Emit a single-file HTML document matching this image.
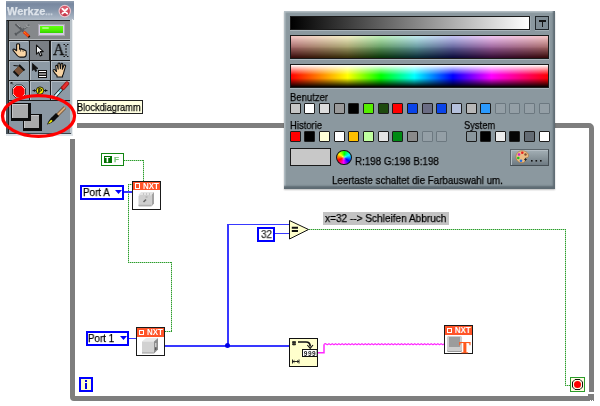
<!DOCTYPE html>
<html><head><meta charset="utf-8">
<style>
html,body{margin:0;padding:0;background:#fff;}
body{width:600px;height:406px;position:relative;overflow:hidden;font-family:"Liberation Sans",sans-serif;font-size:11px;color:#000;}
.a{position:absolute;}
.t{position:absolute;white-space:nowrap;line-height:12px;height:12px;transform-origin:0 0;will-change:transform;-webkit-text-stroke-width:.25px;}
svg{will-change:transform;}
/* loop frame */
.fr{position:absolute;background:#7f7f7f;}
/* popup */
#pop{left:284px;top:10.500px;width:270.500px;height:178px;background:#8b989f;box-shadow:inset -2px -3px 2px #5e6b73,inset 1.500px 1.500px 1px #b4bec4,0 1px 1.500px rgba(0,0,0,.25);box-sizing:border-box;}
.bar{position:absolute;border:1px solid #1a1a1a;box-sizing:border-box;}
.sw{position:absolute;width:11px;height:11px;box-sizing:border-box;border:1px solid #1c1c1c;border-radius:1px;}
.sw.e{border:1px solid #6c7880;background:#949fa6;}

.cell{position:absolute;width:19px;height:19px;background:#8d9aa5;box-sizing:border-box;border-top:1px solid #b7c0c8;border-left:1px solid #b7c0c8;}
.cell.sel{background:#7a7f85;border:1px solid #111;}
.gl{position:absolute;background:#1c1c1c;}

.gh{position:absolute;height:1px;background:repeating-linear-gradient(90deg,#2f982f 0 1px,#a6dea6 1px 2px);}
.gv{position:absolute;width:1px;background:repeating-linear-gradient(180deg,#2f982f 0 1px,#a6dea6 1px 2px);}
.bw{position:absolute;background:#3838ff;}
.enum{position:absolute;box-sizing:border-box;border:2px solid #0000ff;background:#fff;}
.nxt{position:absolute;box-sizing:border-box;border:1px solid #1a1a1a;border-right-width:1.500px;border-bottom-width:1.500px;background:#fff;}
.nxt .bn{position:absolute;left:0;top:0;right:0;height:8.600px;background:#ff5428;}
.nxt .bt{position:absolute;left:10.300px;top:0px;font-size:8.500px;line-height:9px;height:9px;font-weight:bold;color:#fff;transform:scaleX(.94);transform-origin:0 0}
.nxt .ic{position:absolute;left:2.300px;top:1.700px;width:5px;height:5.500px;box-sizing:border-box;border:1px solid #fff;border-width:1.200px;}
</style></head><body>

<!-- loop frame -->
<div class="a" style="left:70px;top:123.3px;width:524px;height:277.4px;box-sizing:border-box;border:5px solid #7e7e7e;border-radius:5px 5px 2px 4px"></div>
<div class="a" style="left:66px;top:118px;width:11px;height:21px;background:#fff"></div>
<div class="a" style="left:588px;top:392px;width:7px;height:2px;background:#fff"></div>
<div class="a" style="left:588px;top:394px;width:6px;height:7px;background:#7e7e7e"></div>
<div class="a" style="left:590px;top:400px;width:1px;height:1px;background:#fff"></div>
<div class="a" style="left:592px;top:400px;width:1px;height:1px;background:#fff"></div>
<!-- tools window -->
<div class="a" id="tw" style="left:6px;top:1px;width:67px;height:135px;background:#8b98a3;"></div>
<div class="a" style="left:6px;top:1px;width:68px;height:18.5px;background:linear-gradient(#93a0b1 0%,#7888a0 15%,#8494a9 45%,#a0adbd 80%,#b2bdca 100%);"></div>
<div class="t" style="left:7.300px;top:5px;font-weight:bold;font-size:11px;color:#dde3ea">Werkze<span style="font-size:9px;color:#c8d0da">...</span></div>
<svg class="a" style="left:58px;top:4px" width="15" height="15" viewBox="0 0 15 15"><defs><radialGradient id="cg" cx="50%" cy="35%" r="65%"><stop offset="0" stop-color="#ec7484"/><stop offset="1" stop-color="#c02c40"/></radialGradient></defs><circle cx="6.800" cy="7.100" r="6.300" fill="#e8c4cc"/><circle cx="6.800" cy="7.100" r="5.100" fill="url(#cg)"/><path d="M4.300 4.600L9.300 9.600M9.300 4.600L4.300 9.600" stroke="#fff" stroke-width="1.800" stroke-linecap="round"/></svg>
<!-- body borders -->
<div class="a" style="left:6px;top:19.5px;width:2.7px;height:115px;background:#48525a"></div>
<div class="a" style="left:7px;top:19.800px;width:63px;height:1.500px;background:#1a1a1a"></div>
<div class="a" style="left:8px;top:20px;width:1px;height:113px;background:#222"></div>
<div class="a" style="left:70px;top:20px;width:2px;height:114px;background:#b9c2c9"></div>
<div class="a" style="left:72px;top:19px;width:1px;height:116px;background:#e8ecee"></div>
<div class="a" style="left:8px;top:133px;width:63px;height:1px;background:#3a444c"></div>
<div class="a" style="left:6px;top:134px;width:67px;height:2px;background:#dfe4e8"></div>
<!-- row1 auto tool -->
<div class="a" style="left:9px;top:21px;width:61px;height:19px;background:#85888b"></div><div class="a" style="left:9px;top:39px;width:61px;height:1px;background:#b4b8bc"></div>
<div class="a" style="left:38px;top:23.600px;width:27px;height:12.200px;background:#d4cce0;border:1px solid #a8a4b0;box-sizing:border-box"></div>
<div class="a" style="left:40px;top:25.800px;width:22.800px;height:7.400px;background:linear-gradient(#62ff14,#50f400 55%,#34d000)"></div>
<div class="a" style="left:42px;top:26.800px;width:7px;height:2px;background:#b8ff90;opacity:.8;border-radius:1px"></div>
<svg class="a" style="left:13px;top:22px" width="20" height="18" viewBox="0 0 20 18"><path d="M2.500 2L10.500 9.500" stroke="#55585c" stroke-width="2.200" fill="none"/><path d="M3.500 1.800L7 5" stroke="#b0b2b4" stroke-width=".8" fill="none"/><path d="M16.500 3L2.500 12.500" stroke="#5c6064" stroke-width="1.800" fill="none"/><path d="M13 2.500l1.500 2l2.500-.5M11 6l4-2" stroke="#a4a6a8" stroke-width=".9" fill="none"/><path d="M2 11l1.500 2.500" stroke="#55585c" stroke-width="1.500"/><path d="M10.800 9.800L16 14.500" stroke="#f03010" stroke-width="3"/><path d="M11 10L15.500 14" stroke="#ffc400" stroke-width="1" stroke-dasharray="1 .8"/><path d="M15.600 14.200l1 .9" stroke="#111" stroke-width="2.200"/></svg>
<!-- grid cells -->
<div class="cell" style="left:9px;top:41px"></div>
<div class="cell sel" style="left:29px;top:40px;width:21px;height:21px"></div>
<div class="cell" style="left:51px;top:41px"></div>
<div class="cell" style="left:9px;top:61px"></div>
<div class="cell" style="left:30px;top:61px"></div>
<div class="cell" style="left:51px;top:61px"></div>
<div class="cell" style="left:9px;top:81px"></div>
<div class="cell" style="left:30px;top:81px"></div>
<div class="cell" style="left:51px;top:81px"></div>
<!-- grid lines -->
<div class="gl" style="left:9px;top:40px;width:61px;height:1px"></div>
<div class="gl" style="left:9px;top:60px;width:61px;height:1px"></div>
<div class="gl" style="left:9px;top:80px;width:61px;height:1px"></div>
<div class="gl" style="left:9px;top:100px;width:61px;height:1px"></div>
<div class="gl" style="left:29px;top:40px;width:1px;height:61px"></div>
<div class="gl" style="left:50px;top:40px;width:1px;height:61px"></div>

<!-- hand operate -->
<svg class="a" style="left:10px;top:42px" width="18" height="17" viewBox="0 0 18 17"><path d="M6.600 3c0-1.700 3-1.700 3 0v4.200l1-.5c.8-.2 1.400.2 1.600.8l.9-.2c.8 0 1.300.4 1.400 1l.7.100c.8.200 1.100.8 1.100 1.500v2.300c0 1.700-1 2.900-2.600 2.900h-3.700c-1.200 0-2-.6-2.800-1.600l-4-4.800c-.8-1.200.4-2.100 1.400-1.500l2 1.500z" fill="#f8d4a4" stroke="#111" stroke-width="1.100" stroke-linejoin="round"/><path d="M10.600 7v2.500M13.100 7.500v2.300" stroke="#111" stroke-width=".7"/></svg>
<!-- arrow -->
<svg class="a" style="left:34px;top:44px" width="12" height="14" viewBox="0 0 12 14"><path d="M2.500 1.200v9l2.200-2l1.600 3.800l1.600-.7l-1.600-3.700h3z" fill="#fff" stroke="#111" stroke-width="1.100" stroke-linejoin="round"/></svg>
<!-- A text -->
<div class="t" style="left:52.600px;top:41.300px;font-family:'Liberation Serif',serif;font-size:17px;line-height:17px;height:17px;color:#0c0c0c;-webkit-text-stroke:.35px #0c0c0c;transform:scaleX(.93)">A</div>
<svg class="a" style="left:62px;top:43px" width="8" height="15" viewBox="0 0 8 15"><path d="M1.500 1.500h1.500M5 1.500h1.500M4 2v2M4 5v2M4 8v2M4 11v2M1.500 13.500h1.500M5 13.500h1.500" stroke="#111" stroke-width="1" fill="none"/></svg>
<!-- wire spool -->
<svg class="a" style="left:10px;top:61px" width="18" height="18" viewBox="0 0 18 18"><path d="M3.500 4.500l5 .5" stroke="#111" stroke-width="1"/><path d="M9 5l4.500 4.500l-5 5l-4.500-4.500z" fill="#7a5238" stroke="#5a3a24" stroke-width=".6"/><path d="M9 4l5.500 5.500" stroke="#111" stroke-width="2"/><path d="M3.500 10.300l5 5" stroke="#111" stroke-width="2"/></svg>
<!-- menu arrow -->
<svg class="a" style="left:31px;top:62px" width="19" height="18" viewBox="0 0 19 18"><path d="M1.500 1.500v7l1.800-1.500l1.200 2.500l1.300-.6l-1.200-2.400h2.400z" fill="#111" stroke="#111" stroke-width=".8" stroke-linejoin="round"/><rect x="7.500" y="8.500" width="8" height="7" fill="#fff" stroke="#111" stroke-width="1"/><path d="M8 10.700h7M8 13.300h7" stroke="#111" stroke-width="1.400"/></svg>
<!-- scroll hand -->
<svg class="a" style="left:52px;top:62px" width="18" height="17" viewBox="0 0 18 17"><path d="M4.500 9.500l-.8-5c-.2-1.300 1.500-1.600 1.800-.4l.7 3l-.2-5c0-1.300 1.800-1.400 1.900-.1l.5 4.600l.6-4.400c.2-1.300 1.900-1.100 1.800.2l-.5 4.800l1.600-3.600c.5-1.200 2.100-.6 1.700.6l-1.600 5.300c-.3 1.800-.8 3-1.500 4.200v1.300h-5.500v-1.300c-.8-.8-2.800-3.200-3.700-4.800c-.6-1.200.8-1.900 1.700-1z" fill="#f8d4a4" stroke="#111" stroke-width="1.100" stroke-linejoin="round"/></svg>
<!-- breakpoint -->
<svg class="a" style="left:9px;top:81px" width="20" height="20" viewBox="0 0 20 20"><path d="M2 1.500l2 2M2 1.500h1.500M2 1.500v1.500" stroke="#111" stroke-width=".8"/><path d="M7 4h6l3.500 3.500v6l-3.500 3.500h-6l-3.500-3.500v-6z" fill="#fff" stroke="#111" stroke-width=".8"/><path d="M7.400 5h5.200l3 3v5l-3 3h-5.200l-3-3v-5z" fill="#ff0000"/></svg>
<!-- probe -->
<svg class="a" style="left:30px;top:81px" width="20" height="20" viewBox="0 0 20 20"><path d="M2.500 9.600h4M13.500 9.600h4" stroke="#111" stroke-width="1"/><path d="M5 8.100l-2 1.500l2 1.500zM15 8.100l2 1.500l-2 1.500z" fill="#111"/><circle cx="10" cy="9.600" r="3.700" fill="#fcf400" stroke="#111" stroke-width=".9"/><path d="M8.900 7.300v4.700" stroke="#111" stroke-width="1.300" fill="none"/><path d="M8.900 7.800h1.500a1.150 1.150 0 0 1 0 2.300h-1.500" stroke="#111" stroke-width="1" fill="none"/></svg>
<!-- dropper -->
<svg class="a" style="left:51px;top:81px" width="20" height="20" viewBox="0 0 20 20"><path d="M12 6.500l-8 9" stroke="#111" stroke-width="3.400"/><path d="M12 6.500l-8 9" stroke="#7adcf0" stroke-width="2"/><path d="M8 11l-4.500 5" stroke="#e8f8fc" stroke-width="1.400"/><path d="M16 2.500l-4 4.500" stroke="#a01818" stroke-width="4.200" stroke-linecap="round"/><path d="M16 2.500l-3.500 4" stroke="#e83030" stroke-width="2.600" stroke-linecap="round"/></svg>

<!-- colour squares -->
<div class="a" style="left:22.500px;top:113.800px;width:19.400px;height:17px;background:#0c0c0c"></div>
<div class="a" style="left:23.700px;top:114.800px;width:15px;height:13.300px;background:#a9aaab;box-shadow:inset 1px 1px 0 #c4c6c8"></div>
<div class="a" style="left:11px;top:102.800px;width:20px;height:18.400px;background:#0c0c0c"></div>
<div class="a" style="left:12.200px;top:103.800px;width:16.300px;height:14.700px;background:#a9aaab;box-shadow:inset 1px 1px 0 #c4c6c8"></div>
<!-- brush -->
<svg class="a" style="left:44px;top:104px" width="24" height="24" viewBox="0 0 24 24"><path d="M21 3.500L12.500 12" stroke="#6a4a2a" stroke-width="3.400"/><path d="M21 3.500L12.500 12" stroke="#d8ac7c" stroke-width="2"/><path d="M13.500 10.500L8 16" stroke="#0c0c0c" stroke-width="4.200"/><path d="M9.500 12.800c-3 1-5 4-6.500 7.700c3.500-1 6.500-2.500 8.500-5.500z" fill="#0c0c0c"/><path d="M7.300 15.800c-1.300.8-2.300 2.200-3.300 4c1.800-.6 3.300-1.500 4.600-2.800z" fill="#f4f000"/></svg>
<!-- red ellipse -->
<svg class="a" style="left:0;top:90px" width="80" height="52" viewBox="0 90 80 52"><ellipse cx="38.5" cy="116" rx="36" ry="20.400" fill="none" stroke="#ff0000" stroke-width="3.300"/></svg>
<!-- tooltip -->
<div class="a" style="left:76.500px;top:100.300px;width:66.500px;height:13.400px;background:#ffffe1;border:1px solid #222;border-left-color:#666;box-sizing:border-box"></div>
<div class="t" style="left:76.800px;top:101.400px;transform:scaleX(.838)">Blockdiagramm</div>

<!-- popup -->
<div id="pop" class="a">
</div>


<div class="bar" style="left:289.5px;top:15.5px;width:240.800px;height:14px;border-left-width:1.5px;border-top-width:1.5px;box-shadow:0 1px 0 #aab5bc,1px 0 0 #9ba7ae;background:linear-gradient(90deg,#000,#fff)"></div>
<div class="a" style="left:535px;top:16px;width:14px;height:13.700px;box-sizing:border-box;border:1.500px solid #20262a;background:#808d95;box-shadow:0 1px 0 #a4b0b7,1px 0 0 #98a4ab"></div>
<div class="a" style="left:539.300px;top:20px;width:6.700px;height:1.500px;background:#141414"></div><div class="a" style="left:541.900px;top:20px;width:1.600px;height:6.500px;background:#141414"></div>
<div class="bar" style="left:289.5px;top:34.5px;width:259.5px;height:24.5px;border-left-width:1.5px;border-top-width:1.5px;box-shadow:0 1px 0 #aab5bc,1px 0 0 #9ba7ae;background:linear-gradient(90deg,#f0c0c0 0%,#f0ecc0 22%,#b8ecb4 35%,#bce6ec 49%,#c0c0f0 63%,#eec0ee 78%,#f0c0c0 100%)"><div style="position:absolute;left:0;top:0;right:0;bottom:0;background:linear-gradient(90deg,#a06464 0%,#a09c68 22%,#5e965e 35%,#5e9096 49%,#5e5e96 63%,#965e96 78%,#a06464 100%);-webkit-mask-image:linear-gradient(rgba(0,0,0,0) 5%,#000 55%);mask-image:linear-gradient(rgba(0,0,0,0) 5%,#000 55%)"></div><div style="position:absolute;left:0;top:0;right:0;bottom:0;background:linear-gradient(90deg,#3a0c0c 0%,#3a320c 22%,#0a360a 35%,#0a2c36 49%,#0c0c3c 63%,#360c36 78%,#3a0c0c 100%);-webkit-mask-image:linear-gradient(rgba(0,0,0,0) 50%,#000 97%);mask-image:linear-gradient(rgba(0,0,0,0) 50%,#000 97%)"></div></div>
<div class="bar" style="left:289.5px;top:63.5px;width:259.5px;height:24.5px;border-left-width:1.5px;border-top-width:1.5px;box-shadow:0 1px 0 #aab5bc,1px 0 0 #9ba7ae;background:linear-gradient(rgba(255,255,255,1),rgba(255,255,255,0) 45%,rgba(0,0,0,0) 60%,rgba(0,0,0,1)),linear-gradient(90deg,#f00 0%,#ff0 22%,#0f0 35%,#0ff 48%,#00f 63%,#f0f 78%,#f00 100%)"></div>
<div class="t" style="left:290px;top:91px;transform:scaleX(.865)">Benutzer</div>
<div class="t" style="left:290px;top:119px;transform:scaleX(.858)">Historie</div>
<div class="t" style="left:464.400px;top:119px;transform:scaleX(.85)">System</div>

<div class="sw" style="left:289.7px;top:103.2px;background:#c6c6c6"></div><div class="sw" style="left:304.3px;top:103.2px;background:#ffffff"></div><div class="sw" style="left:319.0px;top:103.2px;background:#dcdcdc"></div><div class="sw" style="left:333.6px;top:103.2px;background:#9a9a9a"></div><div class="sw" style="left:348.3px;top:103.2px;background:#000000"></div><div class="sw" style="left:362.9px;top:103.2px;background:#55ee00"></div><div class="sw" style="left:377.6px;top:103.2px;background:#1e4a0e"></div><div class="sw" style="left:392.2px;top:103.2px;background:#ff0000"></div><div class="sw" style="left:406.9px;top:103.2px;background:#0a44e8"></div><div class="sw" style="left:421.5px;top:103.2px;background:#6a6c84"></div><div class="sw" style="left:436.2px;top:103.2px;background:#0a44e8"></div><div class="sw" style="left:450.9px;top:103.2px;background:#b4c0dc"></div><div class="sw" style="left:465.5px;top:103.2px;background:#b8b8b8"></div><div class="sw" style="left:480.1px;top:103.2px;background:#2a9aff"></div><div class="sw e" style="left:494.8px;top:103.2px"></div><div class="sw e" style="left:509.4px;top:103.2px"></div><div class="sw e" style="left:524.1px;top:103.2px"></div><div class="sw e" style="left:538.8px;top:103.2px"></div><div class="sw" style="left:289.7px;top:130.8px;background:#ff0000"></div><div class="sw" style="left:304.3px;top:130.8px;background:#000000"></div><div class="sw" style="left:319.0px;top:130.8px;background:#ffffd8"></div><div class="sw" style="left:333.6px;top:130.8px;background:#ffffff"></div><div class="sw" style="left:348.3px;top:130.8px;background:#ffc000"></div><div class="sw" style="left:362.9px;top:130.8px;background:#c0ffa0"></div><div class="sw" style="left:377.6px;top:130.8px;background:#e4e4e4"></div><div class="sw" style="left:392.2px;top:130.8px;background:#008a14"></div><div class="sw" style="left:406.9px;top:130.8px;background:#8a8a8a"></div><div class="sw e" style="left:421.5px;top:130.8px"></div><div class="sw e" style="left:436.2px;top:130.8px"></div><div class="sw" style="left:465.5px;top:130.8px;background:#8a969c"></div><div class="sw" style="left:480.1px;top:130.8px;background:#000000"></div><div class="sw" style="left:494.8px;top:130.8px;background:#ececec"></div><div class="sw" style="left:509.4px;top:130.8px;background:#050505"></div><div class="sw" style="left:524.1px;top:130.8px;background:#646c74"></div><div class="sw" style="left:538.8px;top:130.8px;background:#ffffff"></div>
<div class="a" style="left:290px;top:148px;width:40.500px;height:18px;box-sizing:border-box;border:1px solid #1a1a1a;border-top-width:1.500px;border-left-width:1.500px;background:#c8c8c8"></div>
<div class="a" style="left:336.400px;top:149.800px;width:15.400px;height:15.200px;border-radius:50%;box-sizing:border-box;border:1px solid #141414;background:radial-gradient(circle,rgba(255,255,255,.5) 0,rgba(255,255,255,0) 30%),conic-gradient(from -55deg,#ff0,#0f0,#0ff,#00f,#f0f,#f00,#ff0)"></div>
<div class="t" style="left:355px;top:155px;transform:scaleX(.89)">R:198 G:198 B:198</div>
<div class="a" id="pbtn" style="left:510px;top:148.500px;width:39px;height:17px;box-sizing:border-box;border:1px solid #454e54;border-top-color:#5a646a;border-left-color:#5a646a;background:linear-gradient(#a3afb5,#8a969c 50%,#6e7a82);box-shadow:inset 1px 1px 0 #b4bec4"></div>
<svg class="a" style="left:515px;top:150px" width="30" height="14" viewBox="0 0 30 14"><path d="M7 .8c3.500 0 6.500 2 6.500 5c0 1.500-1.200 2-2.200 2c-1 0-1.500.5-1.200 1.500c.5 1.500-.5 3.500-3.100 3.500c-3.500 0-6-2.500-6-6c0-3.500 2.500-6 6-6z" fill="#ecbc84" stroke="#a87840" stroke-width=".7"/><circle cx="4" cy="4.500" r="1.300" fill="#d020d0"/><circle cx="7.300" cy="2.800" r="1.300" fill="#e82020"/><circle cx="3.300" cy="8" r="1.300" fill="#20c020"/><circle cx="6" cy="10.800" r="1.300" fill="#2070e8"/><circle cx="10.500" cy="4.500" r="1.200" fill="#805030"/><path d="M10.500 8.200v2.600M9.200 9.500h2.600" stroke="#222" stroke-width=".9"/><rect x="16" y="10" width="1.600" height="1.600" fill="#111"/><rect x="20.500" y="10" width="1.600" height="1.600" fill="#111"/><rect x="25" y="10" width="1.600" height="1.600" fill="#111"/></svg>
<div class="t" style="left:332.300px;top:174px;transform:scaleX(.89)">Leertaste schaltet die Farbauswahl um.</div>


<!-- boolean const -->
<div class="a" style="left:101px;top:153px;width:23px;height:13px;box-sizing:border-box;border:1.700px solid #128612;background:#fff"></div>
<div class="a" style="left:104px;top:156px;width:8px;height:7px;background:#007000"></div>
<div class="t" style="left:105px;top:154px;font-size:8px;font-weight:bold;color:#fff;line-height:11px;height:11px">T</div>
<div class="t" style="left:114px;top:154px;font-size:8px;font-weight:bold;color:#7ac87a;line-height:11px;height:11px">F</div>
<!-- green wires -->
<div class="gh" style="left:124px;top:160px;width:20px"></div>
<div class="gv" style="left:143px;top:160px;height:21px"></div>
<div class="gh" style="left:128px;top:184px;width:4px"></div>
<div class="gv" style="left:128px;top:184px;height:78px"></div>
<div class="gh" style="left:128px;top:262px;width:44px"></div>
<div class="gv" style="left:171px;top:262px;height:69px"></div>
<div class="gh" style="left:165px;top:331px;width:7px"></div>
<div class="gh" style="left:309px;top:229px;width:257px"></div>
<div class="gv" style="left:565px;top:229px;height:156px"></div>
<div class="gh" style="left:565px;top:385px;width:6px"></div>
<!-- Port A -->
<div class="enum" style="left:80.400px;top:184.500px;width:43.600px;height:15.200px"></div>
<div class="t" style="left:82.600px;top:185.700px;transform:scaleX(.9)">Port A</div>
<svg class="a" style="left:115px;top:190px" width="7" height="4"><path d="M0 0H7L3.5 4z" fill="#0000ff"/></svg>
<div class="bw" style="left:124px;top:191px;width:8px;height:1.500px"></div>
<!-- NXT block 1 -->
<div class="nxt" style="left:131.500px;top:180.500px;width:29.500px;height:29px"><div class="bn"></div><div class="ic"></div><div class="bt">NXT</div>
<svg class="a" style="left:4.500px;top:9.500px" width="19" height="17" viewBox="0 0 19 17"><path d="M4 1h13l-2.500 3h-13z" fill="#e4e4e4"/><path d="M17 1v11.500l-2.500 3v-11.500z" fill="#a4a4a4"/><rect x="1.500" y="4" width="13" height="11.500" rx="1.500" fill="#cfcfcf"/><path d="M1.500 14.500h13" stroke="#b0b0b0" stroke-width="1.500"/><path d="M6.500 11l2.500-2.500" stroke="#6a6a6a" stroke-width="1.600"/><path d="M6 3h1M9 3h1M12 3h1M8.500 6h2" stroke="#9a9a9a" stroke-width=".8"/></svg></div>
<!-- Port 1 -->
<div class="enum" style="left:86px;top:331px;width:43px;height:15px"></div>
<div class="t" style="left:88px;top:332px;transform:scaleX(.89)">Port 1</div>
<svg class="a" style="left:120px;top:336px" width="7" height="4"><path d="M0 0H7L3.5 4z" fill="#0000ff"/></svg>
<div class="bw" style="left:129px;top:337.600px;width:8px;height:1.500px"></div>
<!-- NXT block 2 -->
<div class="nxt" style="left:136px;top:327px;width:29.200px;height:28.800px"><div class="bn"></div><div class="ic"></div><div class="bt">NXT</div>
<svg class="a" style="left:4.200px;top:9px" width="19" height="17" viewBox="0 0 19 17"><path d="M5 1h12l-4 3.500h-12z" fill="#e8e8e8"/><path d="M17 1v11.500l-4 4v-12z" fill="#8e8e8e"/><rect x="1" y="4.500" width="12" height="12" fill="#d2d2d2"/><path d="M1 15.800h12" stroke="#b4b4b4" stroke-width="1.400"/><path d="M14.800 6v4" stroke="#e8e8e8" stroke-width="1"/><path d="M14.800 10.500v2.500" stroke="#444" stroke-width="1"/></svg></div>
<!-- blue wires -->
<div class="bw" style="left:165px;top:345.200px;width:124px;height:1.500px"></div>
<div class="bw" style="left:227px;top:224px;width:1.500px;height:122px"></div>
<div class="bw" style="left:227px;top:223.900px;width:63px;height:1.500px"></div>
<div class="a" style="left:225.200px;top:343.400px;width:5px;height:5px;border-radius:50%;background:#0000e8"></div>
<div class="bw" style="left:274px;top:232.900px;width:16px;height:1.500px"></div>
<!-- 32 -->
<div class="enum" style="left:257px;top:227px;width:18px;height:15px"></div>
<div class="t" style="left:260.500px;top:228px;transform:scaleX(.9);color:#333">32</div>
<!-- equals triangle -->
<svg class="a" style="left:288px;top:218px" width="24" height="24" viewBox="0 0 24 24"><path d="M1.5 2.5L20.5 11.5L1.5 21z" fill="#ffffcc" stroke="#111" stroke-width="1"/><path d="M3.800 9.800h6.200M3.800 12.900h6.200" stroke="#111" stroke-width="2"/></svg>
<!-- label -->
<div class="a" style="left:323px;top:212px;width:126px;height:13px;background:#c3c3c3"></div>
<div class="t" style="left:324.500px;top:212px;transform:scaleX(.915)">x=32 --> Schleifen Abbruch</div>
<!-- number to string -->
<div class="a" style="left:289px;top:338px;width:29px;height:29px;box-sizing:border-box;border:1px solid #111;border-right-width:1.500px;border-bottom-width:1.500px;background:#ffffcc;"></div>
<svg class="a" style="left:289px;top:338px" width="30" height="30" viewBox="0 0 30 30"><path d="M3 4.200h4M3 6.200h4" stroke="#111" stroke-width="1.200"/><path d="M4.300 3v4.500M5.800 3v4.500" stroke="#111" stroke-width=".8"/><path d="M9 4h8c3.200 0 4.200 2 4.200 4.500" stroke="#111" stroke-width="1.700" fill="none"/><path d="M18.300 7L21.200 10.300L24 7" stroke="#111" stroke-width="1.100" fill="none"/><rect x="13.500" y="11.500" width="14.700" height="7" fill="#fff" stroke="#111"/><text x="14.800" y="17.700" font-family="Liberation Sans" font-weight="bold" font-size="6.500" fill="#222" letter-spacing=".5">999</text><path d="M3.500 21.500v4M10 21.500v4M3.500 23.500h6.500" stroke="#111" stroke-width=".9" fill="none"/><path d="M5.500 22.300l-1.500 1.200l1.500 1.200M8 22.300l1.500 1.200l-1.500 1.200" stroke="#111" stroke-width=".7" fill="none"/></svg>
<!-- pink wire -->
<svg class="a" style="left:318px;top:340px" width="130" height="16" viewBox="0 0 130 16"><path d="M0 12.800H6V4.200" stroke="#ff28ff" stroke-width="1.500" fill="none"/><path d="M6 4.2L7.65 3.7L9.30 4.7L10.95 3.7L12.60 4.7L14.25 3.7L15.90 4.7L17.55 3.7L19.20 4.7L20.85 3.7L22.50 4.7L24.15 3.7L25.80 4.7L27.45 3.7L29.10 4.7L30.75 3.7L32.40 4.7L34.05 3.7L35.70 4.7L37.35 3.7L39.00 4.7L40.65 3.7L42.30 4.7L43.95 3.7L45.60 4.7L47.25 3.7L48.90 4.7L50.55 3.7L52.20 4.7L53.85 3.7L55.50 4.7L57.15 3.7L58.80 4.7L60.45 3.7L62.10 4.7L63.75 3.7L65.40 4.7L67.05 3.7L68.70 4.7L70.35 3.7L72.00 4.7L73.65 3.7L75.30 4.7L76.95 3.7L78.60 4.7L80.25 3.7L81.90 4.7L83.55 3.7L85.20 4.7L86.85 3.7L88.50 4.7L90.15 3.7L91.80 4.7L93.45 3.7L95.10 4.7L96.75 3.7L98.40 4.7L100.05 3.7L101.70 4.7L103.35 3.7L105.00 4.7L106.65 3.7L108.30 4.7L109.95 3.7L111.60 4.7L113.25 3.7L114.90 4.7L116.55 3.7L118.20 4.7L119.85 3.7L121.50 4.7L123.15 3.7L124.80 4.7L126.45 3.7" stroke="#ff28ff" stroke-width="1.300" fill="none" stroke-linejoin="round"/></svg>
<!-- NXT T block -->
<div class="nxt" style="left:444px;top:325.300px;width:29px;height:29.200px"><div class="bn"></div><div class="ic"></div><div class="bt">NXT</div>
<div class="a" style="left:2px;top:10px;width:15px;height:14.500px;border-radius:1.500px;background:#cdcdcd;box-shadow:0 1px 0 #9a9a9a"></div>
<div class="a" style="left:4px;top:11px;width:11px;height:9.500px;background:#9c9c9c"></div>
<div class="t" style="left:14px;top:13px;font-family:'Liberation Serif',serif;font-weight:bold;font-size:17.500px;line-height:17px;height:17px;color:#ff5a1e">T</div></div>
<!-- stop -->
<div class="a" style="left:570px;top:377px;width:15px;height:15px;box-sizing:border-box;border:1.400px solid #2a9c2a;background:#fffce2"></div>
<svg class="a" style="left:570px;top:377px" width="15" height="15" viewBox="0 0 15 15"><path d="M5 2.500h5l2.500 2.500v5l-2.500 2.500h-5l-2.500-2.500v-5z" fill="#fffce2" stroke="#111" stroke-width="1"/><circle cx="7.500" cy="7.500" r="3.500" fill="#ff0000"/></svg>
<!-- iteration -->
<div class="a" style="left:79px;top:377px;width:14px;height:15px;box-sizing:border-box;border:2px solid #0000ff;background:#ffffcc"></div>
<div class="a" style="left:85px;top:380px;width:2px;height:2px;background:#0000e0"></div>
<div class="a" style="left:85px;top:383px;width:2px;height:6px;background:#0000e0"></div>

</body></html>
